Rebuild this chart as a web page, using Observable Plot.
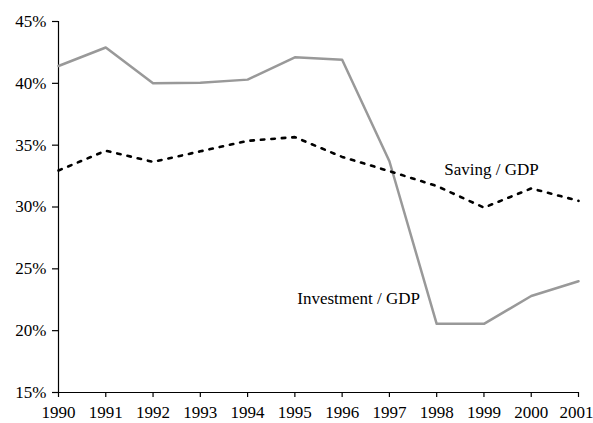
<!DOCTYPE html>
<html>
<head>
<meta charset="utf-8">
<script src="https://cdn.jsdelivr.net/npm/d3@7"></script>
<script src="https://cdn.jsdelivr.net/npm/@observablehq/plot@0.6"></script>
<style>
  html, body { margin: 0; padding: 0; background: #fff; }
  #chart svg { display: block; }
</style>
</head>
<body>
<div id="chart"></div>
<script>
const years = [1990, 1991, 1992, 1993, 1994, 1995, 1996, 1997, 1998, 1999, 2000, 2001];
const investment = [41.4, 42.9, 40.0, 40.05, 40.3, 42.1, 41.9, 33.7, 20.55, 20.55, 22.8, 24.0];
const saving = [32.95, 34.55, 33.65, 34.5, 35.35, 35.65, 34.05, 32.9, 31.7, 29.95, 31.5, 30.5];
const yTicks = [15, 20, 25, 30, 35, 40, 45];
const labels = [
  {name: "Saving / GDP", year: 1999.16, value: 33.05},
  {name: "Investment / GDP", year: 1996.35, value: 22.6}
];

const invData = years.map((y, i) => ({year: y, value: investment[i]}));
const savData = years.map((y, i) => ({year: y, value: saving[i]}));
const lastYear = years[years.length - 1];

const chart = Plot.plot({
  width: 593,
  height: 423,
  marginLeft: 58,
  marginRight: 15,
  marginTop: 21,
  marginBottom: 31,
  style: {fontFamily: "'Liberation Serif', 'Times New Roman', serif", fontSize: "17px", color: "#000", background: "#fff"},
  x: {domain: [1990, 2001], axis: null},
  y: {domain: [15, 45], axis: null},
  marks: [
    Plot.axisX({ticks: years, tickFormat: d => String(d), label: null, tickSize: 5, tickPadding: 8, fontSize: 17, stroke: "#000", strokeWidth: 1.2, text: null}),
    Plot.axisX({ticks: years.slice(0, -1), tickFormat: d => String(d), label: null, tickSize: 0, tickPadding: 13, fontSize: 17}),
    Plot.axisX({ticks: [lastYear], tickFormat: d => String(d), label: null, tickSize: 0, tickPadding: 13, fontSize: 17, dx: -2}),
    Plot.axisY({ticks: yTicks, tickFormat: d => d + "%", label: null, tickSize: 6, tickPadding: 6, fontSize: 17, stroke: "#000", strokeWidth: 1.2}),
    Plot.ruleY([15], {stroke: "#000", strokeWidth: 1.2}),
    Plot.ruleX([1990], {stroke: "#000", strokeWidth: 1.2}),
    Plot.lineY(invData, {x: "year", y: "value", stroke: "#999999", strokeWidth: 2.5}),
    Plot.lineY(savData, {x: "year", y: "value", stroke: "#000", strokeWidth: 2.6, strokeDasharray: "3.5,7"}),
    Plot.text(labels, {x: "year", y: "value", text: "name", fontSize: 17, fill: "#000"})
  ]
});
document.getElementById("chart").appendChild(chart);
</script>
</body>
</html>
